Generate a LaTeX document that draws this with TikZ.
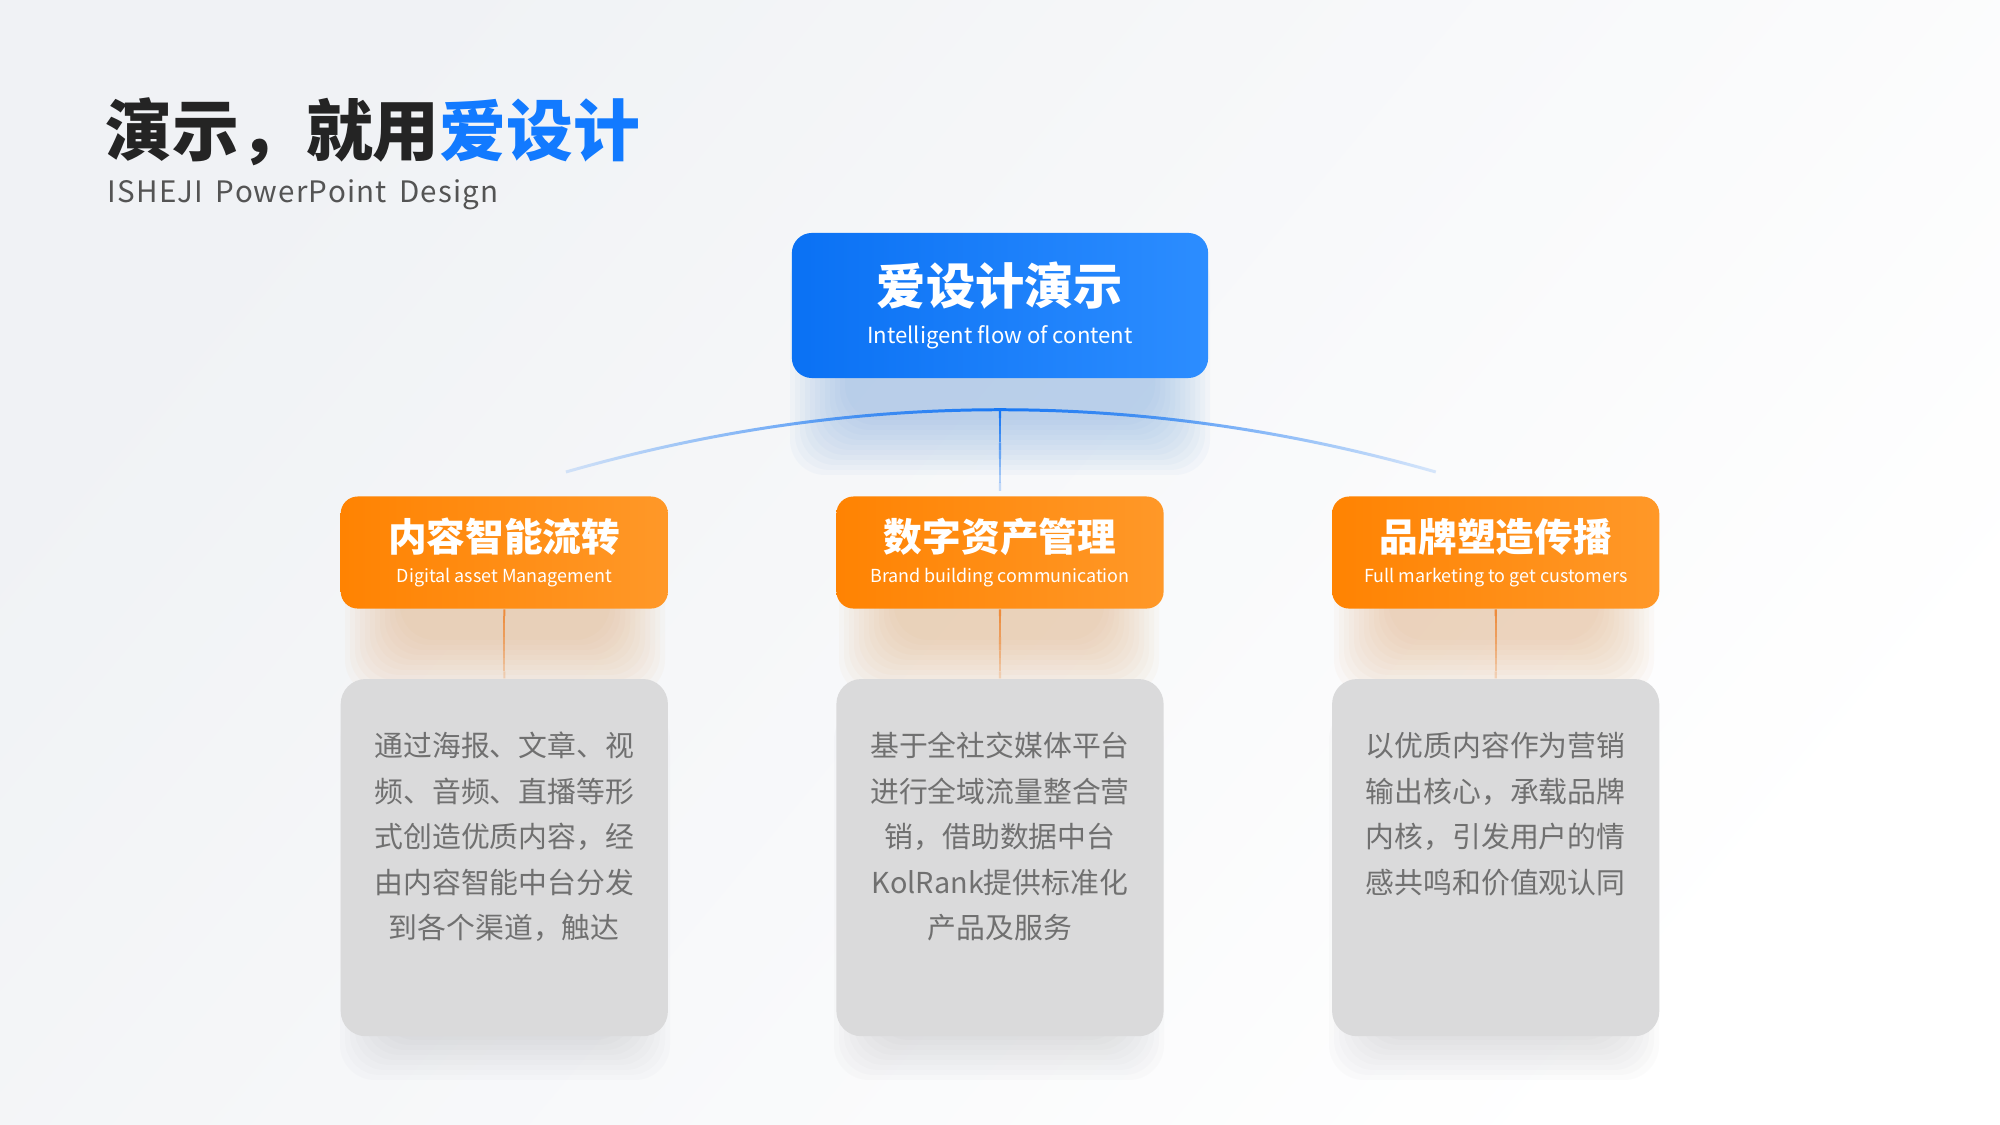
\documentclass[tikz,border=0pt]{standalone}
\usepackage{fontspec}
\setmainfont{Noto Sans CJK SC}
\newfontfamily\tracked[LetterSpace=4]{Noto Sans CJK SC}
\usepackage{xcolor}
\usepackage{tikz}
\usetikzlibrary{positioning,calc,fadings}

\definecolor{inkdark}{RGB}{36,36,36}
\definecolor{brandblue}{RGB}{18,122,255}
\definecolor{blueleft}{RGB}{10,113,244}
\definecolor{blueright}{RGB}{44,141,255}
\definecolor{orangeleft}{RGB}{255,131,2}
\definecolor{orangeright}{RGB}{255,152,40}
\definecolor{cardgray}{RGB}{218,218,219}
\definecolor{bodygray}{RGB}{112,112,112}
\definecolor{subgray}{RGB}{84,84,84}
\definecolor{bgtint}{RGB}{240,242,245}
\definecolor{blueglow}{RGB}{130,174,224}
\definecolor{orangeglow}{RGB}{226,178,130}
\definecolor{grayglow}{RGB}{160,160,165}
\definecolor{stemblue}{RGB}{24,120,245}
\definecolor{stemorange}{RGB}{238,140,60}

\tikzfading[name=arcfade, left color=transparent!85, right color=transparent!85, middle color=transparent!0]

% soft shadow: twelve faint layers, each inset by 5 units
\newcommand{\softglow}[4]{%
  \foreach \k in {0,...,11}{%
    \fill[#1, opacity=#2, rounded corners=0.35cm] ($#3+(\k*5,\k*5)$) rectangle ($#4-(\k*5,\k*5)$);
  }}

\begin{document}
\begin{tikzpicture}[x=0.01cm, y=0.01cm,
  hubbox/.style={rounded corners=0.2cm, minimum width=4.16cm, minimum height=1.45cm, left color=blueleft, right color=blueright, text=white, align=center, inner sep=0pt, font=\fontsize{6.3}{11}\selectfont},
  topicbox/.style={rounded corners=0.17cm, minimum width=3.27cm, minimum height=1.12cm, left color=orangeleft, right color=orangeright, text=white, align=center, inner sep=0pt, font=\fontsize{5.1}{9}\selectfont},
  cardbox/.style={rounded corners=0.25cm, minimum width=3.27cm, minimum height=3.57cm, fill=cardgray},
  cardtext/.style={text=bodygray, align=center, inner sep=0pt, font=\fontsize{8.2}{12.95}\selectfont},
  arcline/.style={draw=stemblue, line width=0.85pt, path fading=arcfade}
]
  % page and background
  \useasboundingbox (0,0) rectangle (2000,1125);
  \shade[top color=bgtint, bottom color=white, shading angle=50] (0,0) rectangle (2000,1125);

  % heading
  \node[anchor=base west, inner sep=0pt, text=inkdark, font=\fontsize{19}{22}\selectfont\bfseries] (title) at (105,969) {演示，就用\textcolor{brandblue}{爱设计}};
  \node[anchor=base west, inner sep=0pt, text=subgray, font=\tracked\fontsize{8.4}{10}\selectfont] (subtitle) at (107,922) {ISHEJI\, PowerPoint\, Design};

  % glows under the boxes
  \softglow{blueglow}{0.055}{(790,650)}{(1210,880)}
  \foreach \cx in {505,999,1494}{
    \softglow{orangeglow}{0.055}{(\cx-160,430)}{(\cx+160,610)}
    \softglow{grayglow}{0.035}{(\cx-165,45)}{(\cx+165,420)}
  }

  \node[hubbox] (core) at (1000,819.5) {{\fontsize{14}{14}\selectfont\bfseries 爱设计演示}\\ Intelligent flow of content};

  \node[topicbox, below=1.17cm of core] (t2) {{\fontsize{11}{11}\selectfont\bfseries 数字资产管理}\\ Brand building communication};
  \node[topicbox, left=1.67cm of t2] (t1) {{\fontsize{11}{11}\selectfont\bfseries 内容智能流转}\\ Digital asset Management};
  \node[topicbox, right=1.67cm of t2] (t3) {{\fontsize{11}{11}\selectfont\bfseries 品牌塑造传播}\\ Full marketing to get customers};

  \node[cardbox, below=0.69cm of t1] (c1) {};
  \node[cardbox, below=0.69cm of t2] (c2) {};
  \node[cardbox, below=0.69cm of t3] (c3) {};

  \node[cardtext, below=0.53cm of c1.north] (d1) {通过海报、文章、视\\频、音频、直播等形\\式创造优质内容，经\\由内容智能中台分发\\到各个渠道，触达};
  \node[cardtext, below=0.53cm of c2.north] (d2) {基于全社交媒体平台\\进行全域流量整合营\\销，借助数据中台\\KolRank提供标准化\\产品及服务};
  \node[cardtext, below=0.53cm of c3.north] (d3) {以优质内容作为营销\\输出核心，承载品牌\\内核，引发用户的情\\感共鸣和价值观认同};

  % arc and stems
  \coordinate (arcL) at (566,653);
  \coordinate (apex) at (1000,715);
  \coordinate (arcR) at (1436,653);
  \draw[arcline] (arcL) .. controls (856,736) and (1144,736) .. (arcR);
  \foreach \i in {0,...,9}
    \draw[stemblue, line width=0.6pt, opacity={1-\i*0.085}] ($(apex)!\i/10!([yshift=0.05cm]t2.north)$) -- ($(apex)!{(\i+1)/10}!([yshift=0.05cm]t2.north)$);
  \foreach \n in {1,2,3}
    \foreach \i in {0,...,9}
      \draw[stemorange, line width=0.6pt, opacity={1-\i*0.08}] ($(t\n.south)!\i/10!(c\n.north)$) -- ($(t\n.south)!{(\i+1)/10}!(c\n.north)$);
\end{tikzpicture}
\end{document}
